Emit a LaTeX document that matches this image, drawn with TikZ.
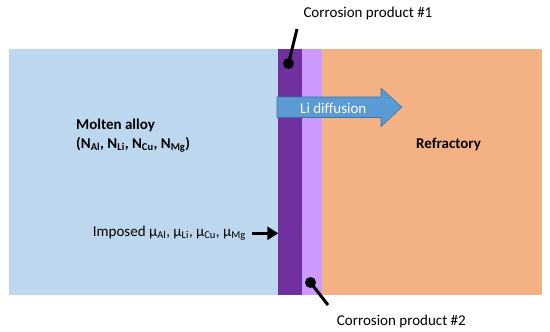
\documentclass[tikz,border=0pt]{standalone}
\usepackage{fontspec}
\setmainfont{Carlito}
\usetikzlibrary{arrows.meta}
\definecolor{alloy}{HTML}{BDD7EE}
\definecolor{prodone}{HTML}{7030A0}
\definecolor{prodtwo}{HTML}{CC99FF}
\definecolor{refrac}{HTML}{F4B183}
\definecolor{diffblue}{HTML}{5B9BD5}
\definecolor{diffedge}{HTML}{41719C}
\tikzset{
  every picture/.style={line join=round, >=Triangle},
  lbl/.style={font=\fontsize{15}{19}\selectfont, inner sep=0pt},
  leader/.style={line width=3pt},
  push/.style={line width=3.5pt, -{Triangle[length=11pt,width=13pt]}},
}
\newcommand{\sbs}[1]{\textsubscript{#1}}

\begin{document}
\begin{tikzpicture}[x=1pt,y=-1pt]
\useasboundingbox (0,0) rectangle (550,332);
\fill[alloy] (9,49) rectangle (278.3,295);
\fill[prodone] (278.3,49) rectangle (301.7,295);
\fill[prodtwo] (301.7,49) rectangle (321.7,295);
\fill[refrac] (321.7,49) rectangle (541.7,295);
\draw[diffedge,fill=diffblue,line width=0.6pt] (277,97) -- (381,97) -- (381,88.3) -- (401.7,107) -- (381,126.7) -- (381,117.5) -- (277,117.5) -- cycle;
\node[lbl,anchor=base west,white] (diff) at (300,113) {Li diffusion};
\node[lbl,anchor=base west] (cpone) at (303.3,17.5) {Corrosion product \#1};
\node[lbl,anchor=base west] (cptwo) at (336.7,325) {Corrosion product \#2};
\coordinate (legone) at (297,29);
\coordinate (dotone) at (288.5,63.5);
\coordinate (legtwo) at (328,305);
\coordinate (dottwo) at (310.5,282.5);
\draw[leader] (legone) -- (dotone);
\fill (dotone) circle (5.5);
\draw[leader] (legtwo) -- (dottwo);
\fill (dottwo) circle (5.5);
\node[lbl,anchor=base west,font=\fontsize{15}{19}\selectfont\bfseries,align=left] (alloy) at (76,148.3) {Molten alloy\\(N\sbs{Al}, N\sbs{Li}, N\sbs{Cu}, N\sbs{Mg})};
\node[lbl,anchor=base west,font=\fontsize{15}{19}\selectfont\bfseries] (refr) at (416,148.3) {Refractory};
\node[lbl,anchor=east,inner xsep=5.5pt] (imposed) at (251.5,233.3) {Imposed μ\sbs{Al}, μ\sbs{Li}, μ\sbs{Cu}, μ\sbs{Mg}};
\coordinate (iface) at (278.3,233.3);
\draw[push] (imposed.east) -- (iface);
\end{tikzpicture}
\end{document}
